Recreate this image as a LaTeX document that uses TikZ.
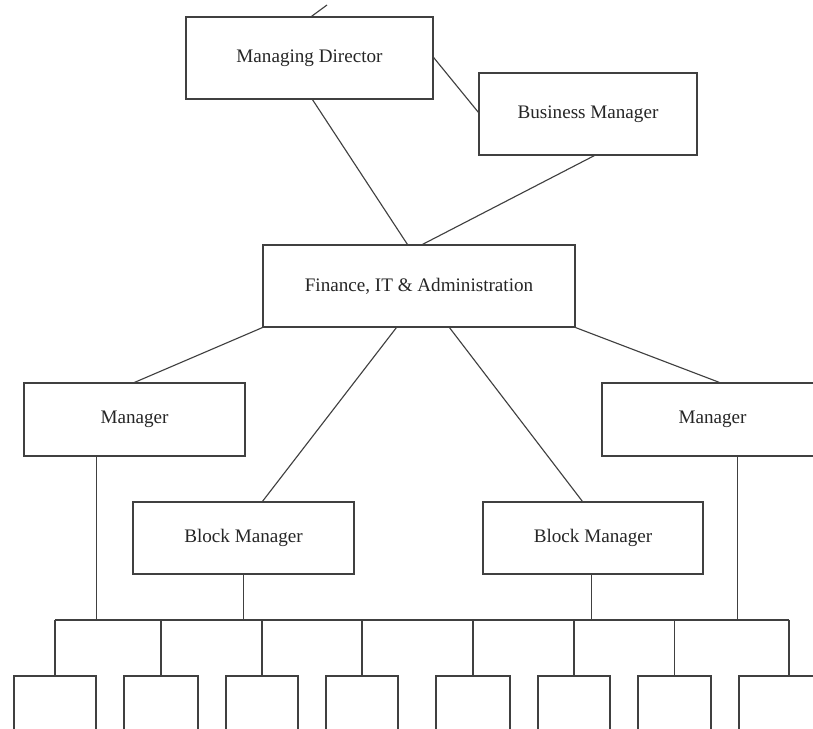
\documentclass[tikz,border=0pt]{standalone}
\usepackage{fontspec}
\setmainfont{Liberation Serif}
\usetikzlibrary{calc}
\tikzset{
  box/.style 2 args={draw=black!75, line width=0.8pt, inner sep=0pt, fill=white,
              minimum width={#1*0.025cm}, minimum height={#2*0.025cm},
              font=\fontsize{13.6}{16}\selectfont, text=black!85},
  conn/.style={draw=black!75, line width=0.8pt}
}
\begin{document}
\begin{tikzpicture}[x=0.025cm,y=-0.025cm]
\fill[white] (0,0) rectangle (813,728);
\useasboundingbox (0,0) rectangle (813,728);
\clip (0,0) rectangle (813,728);
% boxes
\node[box={247}{82}] (md) at (309.5,58) {Managing Director};
\node[box={218}{82}] (bm) at (588,114) {Business Manager};
\node[box={312}{82}] (fin) at (419,286) {Finance, IT \& Administration};
\node[box={221}{73}] (manL) at (134.5,419.5) {Manager};
\node[box={221}{73}] (manR) at (712.5,419.5) {Manager};
\node[box={221}{72}] (blkL) at (243.5,538) {Block Manager};
\node[box={220}{72}] (blkR) at (593,538) {Block Manager};
\node[box={82}{69}] (b1) at (55,710.5) {};
\node[box={74}{69}] (b2) at (161,710.5) {};
\node[box={72}{69}] (b3) at (262,710.5) {};
\node[box={72}{69}] (b4) at (362,710.5) {};
\node[box={74}{69}] (b5) at (473,710.5) {};
\node[box={72}{69}] (b6) at (574,710.5) {};
\node[box={73}{69}] (b7) at (674.5,710.5) {};
\node[box={100}{69}] (b8) at (789,710.5) {};
% free end at top
\coordinate (topend) at (327,5);
\draw[conn] (topend) -- ($(md.north west)+(126,0)$);
% upper connectors
\draw[conn] ($(md.south west)+(127,0)$) -- ($(fin.north west)+(145,0)$);
\draw[conn] ($(md.north east)+(0,41)$) -- ($(bm.north west)+(0,40)$);
\draw[conn] ($(bm.south west)+(116,0)$) -- ($(fin.north west)+(160,0)$);
% finance to managers
\draw[conn] (fin.south west) -- ($(manL.north west)+(111,0)$);
\draw[conn] ($(fin.south west)+(134,0)$) -- ($(blkL.north west)+(130,0)$);
\draw[conn] ($(fin.south west)+(187,0)$) -- ($(blkR.north west)+(100,0)$);
\draw[conn] (fin.south east) -- ($(manR.north west)+(118,0)$);
% bus
\coordinate (bus) at (55,620);
\draw[conn] ($(manL.south west)+(73,0)$) coordinate (vl) -- (vl |- bus);
\draw[conn] (blkL.south) -- (blkL.south |- bus);
\draw[conn] ($(blkR.south west)+(109,0)$) coordinate (vr) -- (vr |- bus);
\draw[conn] ($(manR.south west)+(136,0)$) coordinate (vm) -- (vm |- bus);
\draw[conn] (b1.north |- bus) -- (b8.north |- bus);
\foreach \b in {b1,b2,b3,b4,b5,b6,b7,b8}{
  \draw[conn] (\b.north) -- (\b.north |- bus);
}
\end{tikzpicture}
\end{document}
